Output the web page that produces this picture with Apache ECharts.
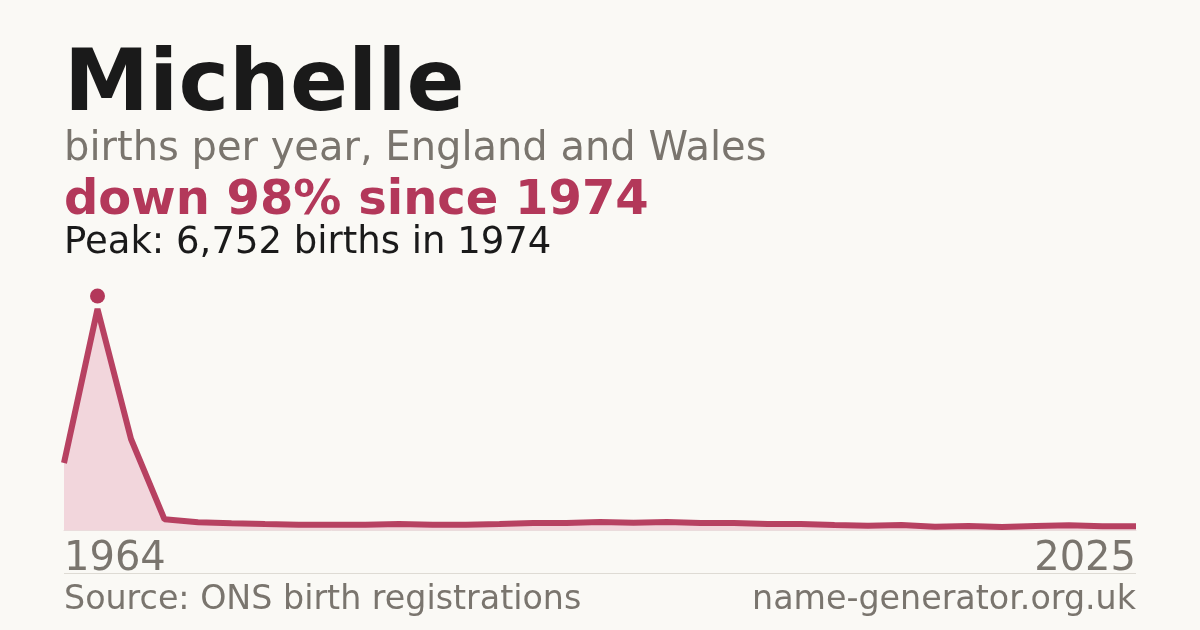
<!DOCTYPE html>
<html>
<head>
<meta charset="utf-8">
<script src="https://cdn.jsdelivr.net/npm/echarts@6/dist/echarts.min.js"></script>
<style>
html,body{margin:0;padding:0;background:#faf9f5;}
#c{width:1200px;height:630px;}
</style>
</head>
<body>
<div id="c"></div>
<script>
const name = "Michelle";
const subtitle = "births per year, England and Wales";
const source = "Source: ONS birth registrations";
const site = "name-generator.org.uk";
const years = ["1964","1974","1984","1994",
  "1997","1998","1999","2000","2001","2002","2003","2004","2005","2006","2007","2008",
  "2009","2010","2011","2012","2013","2014","2015","2016","2017","2018","2019","2020",
  "2021","2022","2023","2024","2025"];
const births = [2047, 6752, 2780, 325,
  235, 205, 183, 162, 162, 162, 183, 162, 162, 183, 214, 214,
  244, 224, 244, 214, 214, 183, 183, 153, 132, 153, 102, 122,
  92, 122, 143, 112, 112];

const RED = "#b3385a", GRAY = "#7a756e", DARK = "#1a1a1a";
const FONT = "DejaVu Sans";
const peak = Math.max(...births);
const peakIdx = births.indexOf(peak);
const peakYear = years[peakIdx];
const last = births[births.length - 1];
const pct = Math.round((1 - last / peak) * 100);

const chart = echarts.init(document.getElementById('c'));
chart.setOption({
  backgroundColor: "#faf9f5",
  animation: false,
  grid: {left: 64, right: 64, top: 309, bottom: 100},
  xAxis: {
    type: 'category', data: years, boundaryGap: false,
    axisLine: {show: true, lineStyle: {color: '#eadcdc', width: 1}},
    axisTick: {show: false},
    axisLabel: {
      interval: (i) => i === 0 || i === years.length - 1,
      showMinLabel: true, showMaxLabel: true,
      alignMinLabel: 'left', alignMaxLabel: 'right',
      color: GRAY, fontFamily: FONT, fontSize: 40, lineHeight: 40, margin: 10
    }
  },
  yAxis: {type: 'value', min: 0, max: peak, show: false, splitLine: {show: false}},
  series: [{
    type: 'line', data: births, symbol: 'none', smooth: false,
    lineStyle: {color: RED, width: 6, opacity: 0.95},
    areaStyle: {color: '#f2d6dc', opacity: 1},
    markPoint: {
      symbol: 'circle', symbolSize: 15, symbolOffset: [0, -13],
      itemStyle: {color: RED},
      label: {show: false},
      data: [{coord: [peakYear, peak]}]
    }
  }],
  graphic: [
    {type: 'text', left: 64, top: 45, style: {text: name, font: 'bold 85.5px "DejaVu Sans"', fill: DARK}},
    {type: 'text', left: 64, top: 130, style: {text: subtitle, font: '40px "DejaVu Sans"', fill: GRAY}},
    {type: 'text', left: 64, top: 177.5, style: {text: 'down ' + pct + '% since ' + peakYear, font: 'bold 48px "DejaVu Sans"', fill: RED}},
    {type: 'text', left: 64, top: 224.5, style: {text: 'Peak: ' + peak.toLocaleString('en-GB') + ' births in ' + peakYear, font: '37px "DejaVu Sans"', fill: DARK}},
    {type: 'line', shape: {x1: 64, y1: 573.5, x2: 1136, y2: 573.5}, style: {stroke: '#dedbd4', lineWidth: 1}},
    {type: 'text', left: 64, top: 583.5, style: {text: source, font: '33.3px "DejaVu Sans"', fill: GRAY}},
    {type: 'text', right: 64, top: 583.5, style: {text: site, font: '33.3px "DejaVu Sans"', fill: GRAY}}
  ]
});
</script>
</body>
</html>
